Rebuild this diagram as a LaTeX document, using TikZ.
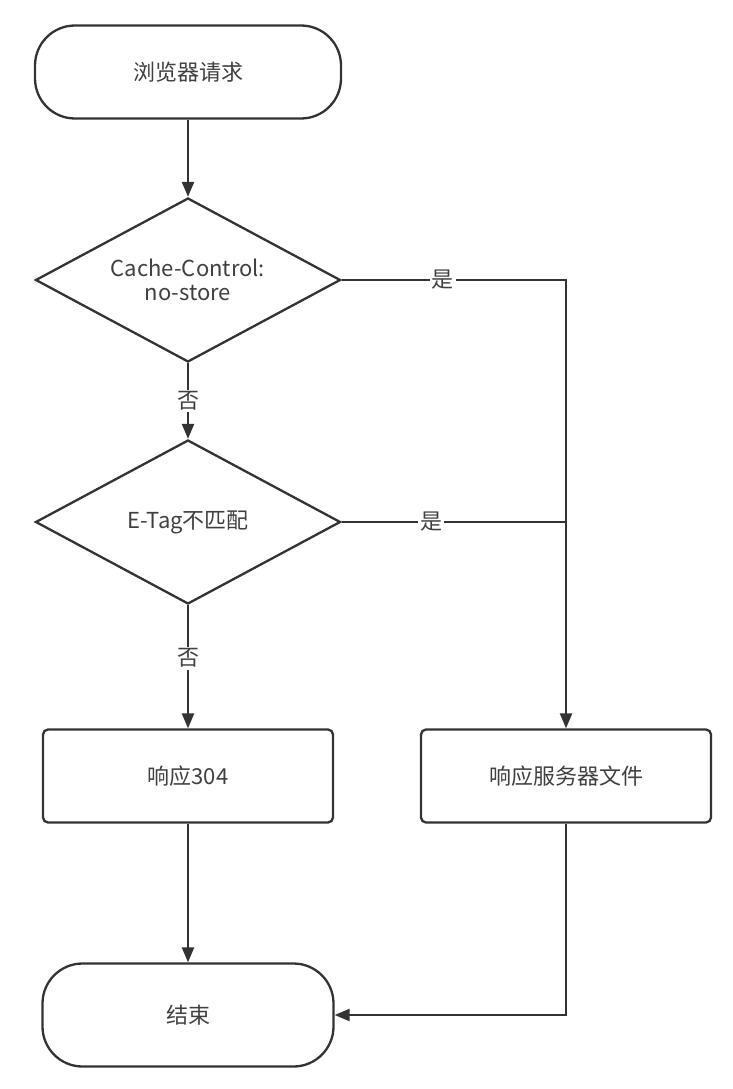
\documentclass[tikz,border=0pt]{standalone}
\usepackage{fontspec}
\setmainfont{Noto Sans CJK SC}
\usetikzlibrary{shapes.geometric}
\usetikzlibrary{arrows.meta}
\definecolor{linegray}{HTML}{333333}
\definecolor{textgray}{HTML}{404040}

\begin{document}
\begin{tikzpicture}[
    x=1pt, y=-1pt,
    every node/.style={font=\fontsize{22}{28}\selectfont, text=textgray},
    term/.style={draw=linegray, line width=2.3pt, rounded corners=40pt, inner sep=0pt},
    proc/.style={draw=linegray, line width=2.3pt, rounded corners=5pt, inner sep=0pt,
        minimum width=290pt, minimum height=93pt},
    decide/.style={draw=linegray, line width=2.3pt, diamond, aspect=1.86, inner sep=0pt,
        minimum width=305pt, minimum height=164pt, align=center},
    arr/.style={-{Triangle[length=15pt, width=12pt]}, line width=2.3pt, draw=linegray},
    lnk/.style={line width=2.3pt, draw=linegray},
    lbl/.style={fill=white, inner sep=2pt},
]
\fill[white] (0,0) rectangle (732,1089);
\useasboundingbox (0,0) rectangle (732,1089);
% === Left column ===
\node[term, minimum width=306pt, minimum height=93pt] (start) at (188,72) {浏览器请求};
\node[decide] (nostore) at (188,280) {Cache-Control:\\[-4pt]no-store};
\node[decide] (etag) at (188,522) {E-Tag不匹配};
\node[proc] (r304) at (188,776) {响应304};
\node[term, minimum width=291pt, minimum height=103pt] (finish) at (188,1015) {结束};
% === Right column ===
\node[proc] (rfile) at (566,776) {响应服务器文件};
\coordinate (j1) at (rfile.north |- nostore.east);
\coordinate (j2) at (rfile.north |- etag.east);
\coordinate (j3) at (rfile.south |- finish.east);
% Main flow
\draw[arr] (start) -- (nostore);
\draw[arr] (nostore) -- node[lbl, pos=0.5] {否} (etag);
\draw[arr] (etag) -- node[lbl, pos=0.43] {否} (r304);
\draw[arr] (r304) -- (finish);
% Yes branches
\draw[arr] (nostore.east) -- node[lbl, pos=0.45] {是} (j1) -- (rfile.north);
\draw[lnk] (etag.east) -- node[lbl, pos=0.4] {是} (j2);
% Back to end
\draw[arr] (rfile.south) -- (j3) -- (finish.east);
\end{tikzpicture}
\end{document}
